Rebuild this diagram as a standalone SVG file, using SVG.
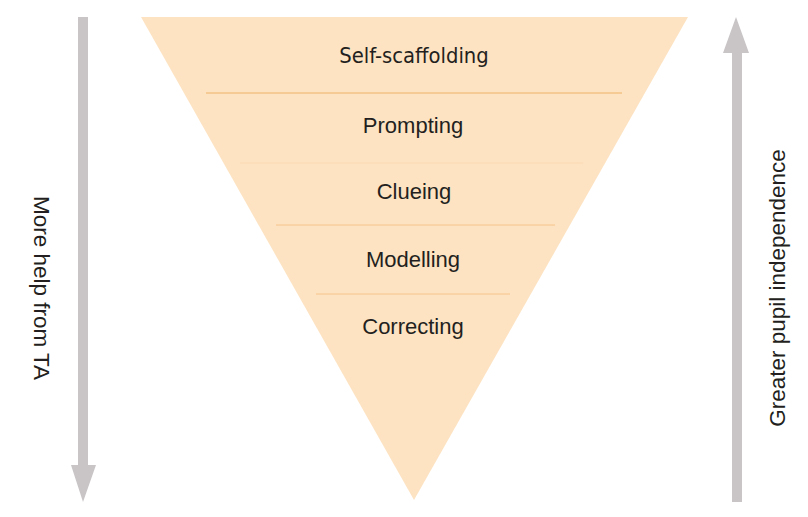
<svg xmlns="http://www.w3.org/2000/svg" width="808" height="517" viewBox="0 0 808 517">
<style>
.lbl{font-family:"Liberation Sans",Arial,sans-serif;font-size:22px;fill:#231f20;text-anchor:middle}
.side{font-family:"Liberation Sans",Arial,sans-serif;font-size:22.5px;fill:#231f20;text-anchor:middle}
.arrow{fill:#c9c5c7}
</style>
<rect width="808" height="517" fill="#ffffff"/>
<g id="pyramid">
<polygon points="141,17 688,17 414,500" fill="#fde3c2"/>
<line x1="206" y1="93" x2="622" y2="93" stroke="#f0b266" stroke-width="1"/>
<line x1="240" y1="163" x2="583" y2="163" stroke="#fbd9b4" stroke-width="1"/>
<line x1="276" y1="225" x2="555" y2="225" stroke="#f6c48a" stroke-width="1"/>
<line x1="316" y1="294" x2="510" y2="294" stroke="#f6c48a" stroke-width="1"/>
</g>
<g id="self-scaffolding"><text x="414" y="63" style="font-family:'DejaVu Sans Condensed','DejaVu Sans',sans-serif;font-size:21.8px;fill:#231f20;text-anchor:middle">Self-scaffolding</text></g>
<g id="prompting"><text class="lbl" x="413" y="133">Prompting</text></g>
<g id="clueing"><text class="lbl" x="414" y="199">Clueing</text></g>
<g id="modelling"><text class="lbl" x="413" y="267">Modelling</text></g>
<g id="correcting"><text class="lbl" x="413" y="334">Correcting</text></g>
<g id="connectors">
<polygon class="arrow" points="78,17 88,17 88,465 96,465 83,502 71,465 78,465"/>
<polygon class="arrow" points="732,502 742,502 742,53 749,53 736,17 723,53 732,53"/>
</g>
<g id="left-label"><text class="side" transform="translate(34,288) rotate(90)">More help from TA</text></g>
<g id="right-label"><text class="side" transform="translate(785,288) rotate(-90)">Greater pupil independence</text></g>
</svg>
